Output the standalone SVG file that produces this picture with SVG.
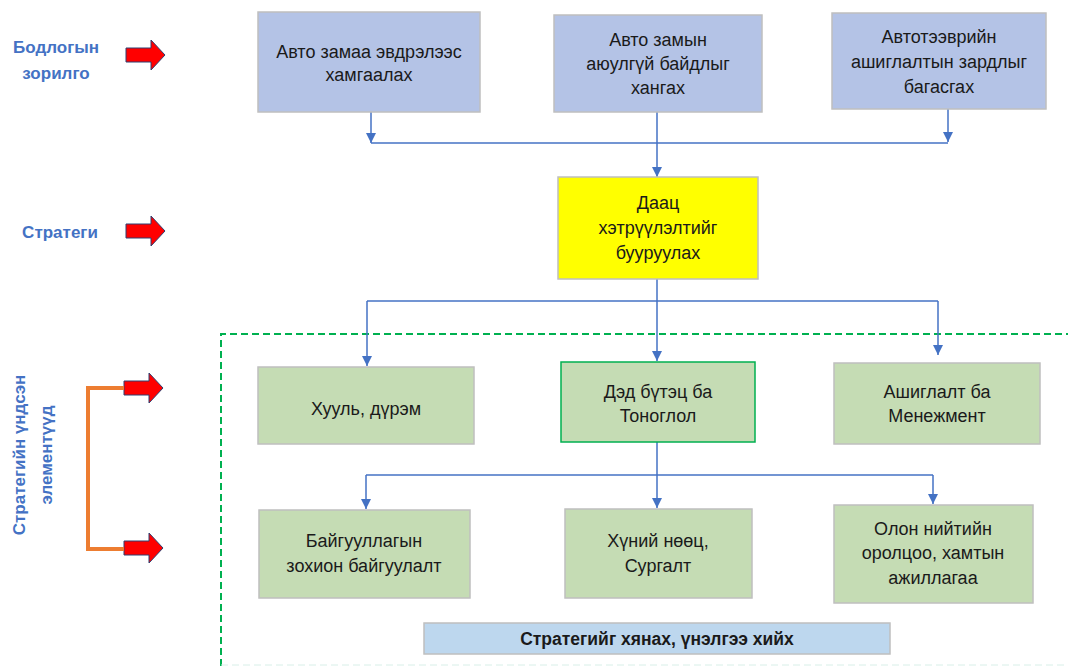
<svg xmlns="http://www.w3.org/2000/svg" width="1068" height="666" viewBox="0 0 1068 666">
<style>
.box{stroke:#bfbfbf;stroke-width:1.5}
.blue{fill:#b4c3e6}
.green{fill:#c5dcb4}
.t{font-family:"Liberation Sans",Arial,sans-serif;font-size:18px;fill:#1a1a1a;text-anchor:middle;dominant-baseline:central}
.lbl{font-family:"Liberation Sans",Arial,sans-serif;font-size:17px;font-weight:bold;fill:#4472c4;text-anchor:middle;dominant-baseline:central}
.c{fill:none;stroke:#4472c4;stroke-width:1.5}
.ra{fill:#ff0000;stroke:#2f3f70;stroke-width:1}
</style>
<defs>
<marker id="ah" markerWidth="10" markerHeight="10" refX="10" refY="5" orient="auto" markerUnits="userSpaceOnUse" viewBox="0 0 10 10">
<path d="M0,0 L10,5 L0,10 Z" fill="#4472c4"/>
</marker>
<path id="redarrow" d="M0,-7 L25,-7 L25,-15 L39,0 L25,15 L25,7 L0,7 Z"/>
</defs>

<g id="labels">
<text class="lbl" x="56" y="47">Бодлогын</text>
<text class="lbl" x="56" y="73">зорилго</text>
<text class="lbl" x="60" y="232">Стратеги</text>
<text class="lbl" transform="translate(19 455) rotate(-90)" x="0" y="0">Стратегийн үндсэн</text>
<text class="lbl" transform="translate(46 455) rotate(-90)" x="0" y="0">элементүүд</text>
</g>

<g id="red-arrows">
<use href="#redarrow" class="ra" x="126" y="55"/>
<use href="#redarrow" class="ra" x="126" y="231"/>
<use href="#redarrow" class="ra" x="124" y="388"/>
<use href="#redarrow" class="ra" x="124" y="548"/>
<path d="M124,388 H88 V549 H124" fill="none" stroke="#ed7d31" stroke-width="4"/>
</g>

<g id="frame">
<path d="M221,666 V334 H1068" fill="none" stroke="#00b050" stroke-width="2" stroke-dasharray="7,4"/>
<path d="M221,665 H1068" fill="none" stroke="#d8efe8" stroke-width="1" stroke-dasharray="7,4"/>
</g>

<g id="connectors">
<path class="c" d="M371,112 V143" marker-end="url(#ah)"/>
<path class="c" d="M948,109 V142" marker-end="url(#ah)"/>
<path class="c" d="M371,143 H948"/>
<path class="c" d="M657,112 V177" marker-end="url(#ah)"/>
<path class="c" d="M657,279 V361" marker-end="url(#ah)"/>
<path class="c" d="M367,301 H938"/>
<path class="c" d="M367,301 V366" marker-end="url(#ah)"/>
<path class="c" d="M938,301 V355" marker-end="url(#ah)"/>
<path class="c" d="M657,442 V508" marker-end="url(#ah)"/>
<path class="c" d="M366,475 H933"/>
<path class="c" d="M366,475 V509" marker-end="url(#ah)"/>
<path class="c" d="M933,475 V504" marker-end="url(#ah)"/>
</g>

<g id="n1"><rect class="box blue" x="258" y="12" width="222" height="100"/>
<text class="t" x="369" y="52">Авто замаа эвдрэлээс</text><text class="t" x="369" y="75">хамгаалах</text></g>
<g id="n2"><rect class="box blue" x="554" y="15" width="208" height="97"/>
<text class="t" x="658" y="40">Авто замын</text><text class="t" x="658" y="64">аюулгүй байдлыг</text><text class="t" x="658" y="88">хангах</text></g>
<g id="n3"><rect class="box blue" x="832" y="13" width="214" height="96"/>
<text class="t" x="939" y="37">Автотээврийн</text><text class="t" x="939" y="62">ашиглалтын зардлыг</text><text class="t" x="939" y="87">багасгах</text></g>

<g id="n4"><rect x="558" y="177" width="200" height="102" fill="#ffff00" stroke="#bfbfbf" stroke-width="1.5"/>
<text class="t" x="658" y="203">Даац</text><text class="t" x="658" y="228">хэтрүүлэлтийг</text><text class="t" x="658" y="253">бууруулах</text></g>

<g id="n5"><rect class="box green" x="258" y="367" width="216" height="77"/>
<text class="t" x="366" y="409">Хууль, дүрэм</text></g>
<g id="n6"><rect class="green" x="561" y="362" width="194" height="80" stroke="#00b050" stroke-width="1.5"/>
<text class="t" x="658" y="392">Дэд бүтэц ба</text><text class="t" x="658" y="416">Тоноглол</text></g>
<g id="n7"><rect class="box green" x="834" y="363" width="206" height="81"/>
<text class="t" x="937" y="392">Ашиглалт ба</text><text class="t" x="937" y="416">Менежмент</text></g>

<g id="n8"><rect class="box green" x="259" y="510" width="211" height="88"/>
<text class="t" x="364" y="541">Байгууллагын</text><text class="t" x="364" y="566">зохион байгуулалт</text></g>
<g id="n9"><rect class="box green" x="565" y="509" width="187" height="89"/>
<text class="t" x="658" y="541">Хүний нөөц,</text><text class="t" x="658" y="566">Сургалт</text></g>
<g id="n10"><rect class="box green" x="834" y="505" width="199" height="98"/>
<text class="t" x="933" y="529">Олон нийтийн</text><text class="t" x="933" y="553">оролцоо, хамтын</text><text class="t" x="933" y="578">ажиллагаа</text></g>

<g id="n11"><rect x="424" y="623" width="466" height="31" fill="#bdd7ee" stroke="#bfbfbf" stroke-width="1.5"/>
<text class="t" x="657" y="639" style="font-weight:bold;font-size:17.5px">Стратегийг хянах, үнэлгээ хийх</text></g>
</svg>
